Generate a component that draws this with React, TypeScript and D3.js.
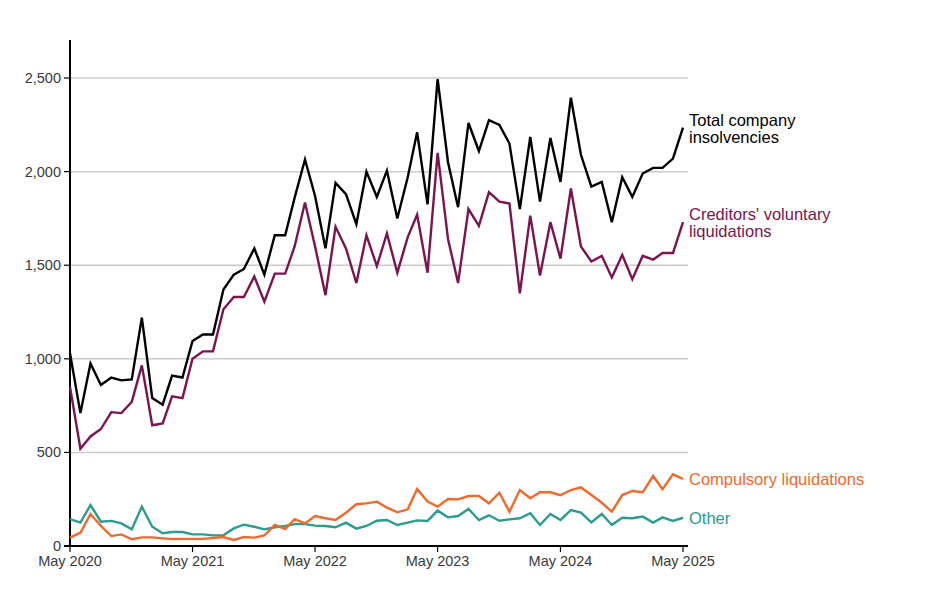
import React from "react";
import * as d3 from "d3";

const months: string[] = d3.range(61).map((i) => {
  const d = new Date(2020, 4 + i, 1);
  return d3.timeFormat("%Y-%m")(d);
});

const total: number[] = [
  1030, 710, 975, 860, 900, 885, 890, 1220, 790, 755, 910, 900,
  1095, 1130, 1130, 1370, 1450, 1480, 1590, 1450, 1660, 1660, 1860, 2065,
  1870, 1590, 1940, 1880, 1720, 2000, 1865, 2005, 1750, 1970, 2210, 1825,
  2495, 2050, 1810, 2260, 2110, 2275, 2250, 2150, 1800, 2185, 1840, 2180,
  1945, 2395, 2090, 1920, 1945, 1730, 1970, 1865, 1990, 2020, 2020, 2070,
  2235,
];

const cvl: number[] = [
  850, 520, 585, 625, 715, 710, 770, 965, 645, 655, 800, 790,
  1000, 1040, 1040, 1265, 1330, 1330, 1440, 1305, 1455, 1455, 1600, 1835,
  1600, 1340, 1705, 1590, 1405, 1660, 1495, 1670, 1460, 1650, 1770, 1460,
  2100, 1640, 1405, 1800, 1710, 1890, 1840, 1830, 1350, 1765, 1445, 1730,
  1535, 1910, 1600, 1520, 1550, 1435, 1555, 1425, 1550, 1530, 1565, 1565,
  1730,
];

const compulsory: number[] = [
  45, 71, 171, 107, 53, 62, 36, 46, 46, 41, 37, 38,
  38, 38, 43, 48, 32, 48, 45, 57, 113, 91, 143, 121,
  160, 148, 139, 178, 223, 228, 237, 205, 180, 196, 304, 237,
  210, 251, 249, 267, 267, 228, 285, 183, 299, 255, 287, 287,
  271, 299, 313, 272, 231, 183, 272, 294, 287, 374, 303, 383,
  358,
];

const other: number[] = [
  143, 125, 219, 130, 134, 121, 89, 210, 103, 68, 75, 75,
  62, 62, 57, 57, 94, 114, 103, 89, 100, 107, 117, 117,
  109, 107, 100, 125, 93, 107, 135, 139, 112, 125, 137, 134,
  189, 153, 160, 198, 139, 164, 135, 142, 148, 175, 112, 171,
  139, 192, 178, 126, 171, 112, 151, 148, 157, 125, 153, 134,
  151,
];

const yTicks: number[] = [0, 500, 1000, 1500, 2000, 2500];
const xTickLabels: string[] = ["May 2020", "May 2021", "May 2022", "May 2023", "May 2024", "May 2025"];

const seriesList = [
  { name: "total", values: total, color: "#000000", label: ["Total company", "insolvencies"], labelY: [126, 142.5], textColor: "#000000" },
  { name: "cvl", values: cvl, color: "#7c1450", label: ["Creditors' voluntary", "liquidations"], labelY: [220, 236.5], textColor: "#7c1450" },
  { name: "compulsory", values: compulsory, color: "#f26a2a", label: ["Compulsory liquidations"], labelY: [485], textColor: "#f26a2a" },
  { name: "other", values: other, color: "#2a9d8f", label: ["Other"], labelY: [524], textColor: "#2a9d8f" },
];

export default function App() {
  const W = 951;
  const H = 602;
  const x0 = 70;
  const x1 = 683;
  const parse = d3.timeParse("%Y-%m");
  const dates = months.map((m) => parse(m) as Date);
  const x = d3.scaleTime().domain([dates[0], dates[60]]).range([x0, x1]);
  const y = d3.scaleLinear().domain([0, 2700]).range([546, 40.6]);
  const line = d3
    .line<number>()
    .x((_, i) => x(dates[i]))
    .y((v) => y(v));
  const xTickDates = d3.range(6).map((k) => dates[k * 12]);
  const font = "'Liberation Sans', Arial, sans-serif";

  return (
    <svg width={W} height={H} style={{ position: "absolute", left: 0, top: 0, background: "#fff" }} fontFamily={font}>
      {yTicks.filter((t) => t > 0).map((t) => (
        <line key={"g" + t} x1={x0} x2={688} y1={y(t)} y2={y(t)} stroke="#cccccc" strokeWidth={1.5} />
      ))}
      {yTicks.map((t) => (
        <g key={"yt" + t}>
          <line x1={64} x2={x0} y1={y(t)} y2={y(t)} stroke="#000" strokeWidth={1.2} />
          <text x={61} y={y(t)} dy="0.35em" textAnchor="end" fontSize={14.5} fill="#3a3a3a">
            {d3.format(",")(t)}
          </text>
        </g>
      ))}
      <line x1={x0} x2={x0} y1={40} y2={546} stroke="#000" strokeWidth={2} />
      <line x1={x0 - 6} x2={688} y1={546} y2={546} stroke="#000" strokeWidth={2} />
      {xTickDates.map((d, k) => (
        <g key={"xt" + k}>
          <line x1={x(d)} x2={x(d)} y1={546} y2={552} stroke="#000" strokeWidth={1.2} />
          <text x={x(d)} y={566} textAnchor="middle" fontSize={14.5} fill="#3a3a3a">
            {xTickLabels[k]}
          </text>
        </g>
      ))}
      {seriesList.slice().reverse().map((s) => (
        <path key={s.name} d={line(s.values) || ""} fill="none" stroke={s.color} strokeWidth={2.4} strokeLinejoin="miter" />
      ))}
      {seriesList.map((s) =>
        s.label.map((t, j) => (
          <text key={s.name + j} x={689} y={s.labelY[j]} fontSize={16.5} fill={s.textColor}>
            {t}
          </text>
        ))
      )}
    </svg>
  );
}
